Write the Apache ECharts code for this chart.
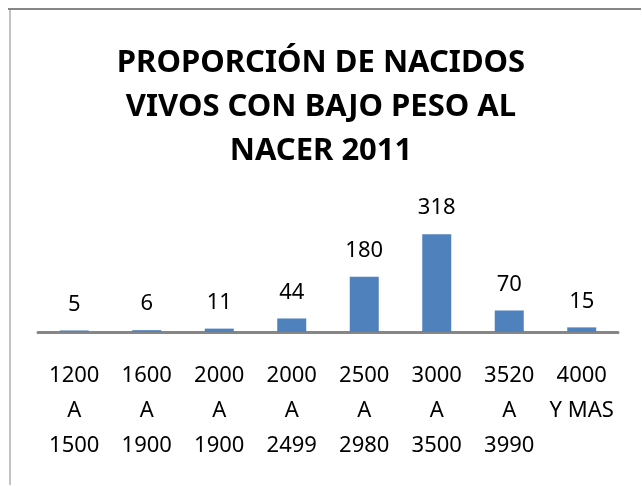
<!DOCTYPE html>
<html>
<head>
<meta charset="utf-8">
<script src="https://cdn.jsdelivr.net/npm/echarts@6/dist/echarts.min.js"></script>
<style>
  html, body { margin: 0; padding: 0; background: #fff; }
  #chart { width: 642px; height: 486px; }
</style>
</head>
<body>
<div id="chart"></div>
<script>
const titleLines = ['PROPORCIÓN DE NACIDOS', 'VIVOS CON BAJO PESO AL', 'NACER 2011'];
const categories = ['1200\nA\n1500', '1600\nA\n1900', '2000\nA\n1900', '2000\nA\n2499',
  '2500\nA\n2980', '3000\nA\n3500', '3520\nA\n3990', '4000\nY MAS\n'];
const values = [5, 6, 11, 44, 180, 318, 70, 15];

const chart = echarts.init(document.getElementById('chart'));

const option = {
  animation: false,
  title: {
    text: titleLines.join('\n'),
    left: 'center',
    top: 36,
    textStyle: {
      fontFamily: 'Noto Sans',
      fontSize: 31,
      fontWeight: 'bold',
      lineHeight: 44,
      color: '#000'
    }
  },
  graphic: [
    { type: 'line', shape: { x1: 8, y1: 9, x2: 641, y2: 9 }, style: { stroke: '#868686', lineWidth: 2 } },
    { type: 'line', shape: { x1: 10, y1: 9, x2: 10, y2: 485 }, style: { stroke: '#868686', lineWidth: 1 } }
  ],
  grid: { left: 38, right: 24, top: 209, bottom: 154 },
  xAxis: {
    type: 'category',
    data: categories,
    axisLine: { lineStyle: { color: '#868686', width: 3 } },
    axisTick: { show: false },
    axisLabel: {
      interval: 0,
      margin: 26,
      fontFamily: 'Noto Sans',
      fontSize: 22,
      lineHeight: 35,
      color: '#000',
      verticalAlign: 'top'
    }
  },
  yAxis: {
    type: 'value',
    min: 0,
    max: 400,
    show: false,
    splitLine: { show: false }
  },
  series: [{
    type: 'bar',
    data: values,
    barWidth: 29,
    itemStyle: { color: '#4f81bd' },
    label: {
      show: true,
      position: 'top',
      distance: 15,
      fontFamily: 'Noto Sans',
      fontSize: 22,
      color: '#000'
    }
  }]
};

chart.setOption(option);
</script>
</body>
</html>
